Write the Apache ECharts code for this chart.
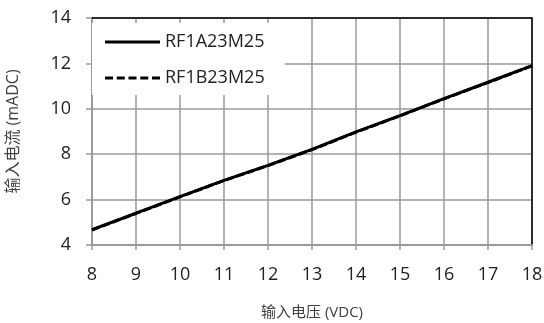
<!DOCTYPE html>
<html><head><meta charset="utf-8">
<script src="https://cdn.jsdelivr.net/npm/echarts@6/dist/echarts.min.js"></script>
<style>html,body{margin:0;padding:0;background:#fff}#c{width:544px;height:323px}</style>
</head><body><div id="c"></div>
<script>
const voltage = [8, 9, 10, 11, 12, 13, 14, 15, 16, 17, 18];
const currentA = [4.68, 5.40, 6.13, 6.85, 7.51, 8.21, 8.98, 9.70, 10.45, 11.17, 11.90];
const currentB = [4.66, 5.39, 6.12, 6.84, 7.50, 8.20, 8.97, 9.69, 10.44, 11.16, 11.89];
const seriesNames = ['RF1A23M25', 'RF1B23M25'];
const xName = '输入电压 (VDC)';
const yName = '输入电流 (mADC)';

const font = '"Open Sans", "Noto Sans CJK SC", sans-serif';
const grey = '#9a9a9a';
const solidIcon = 'path://M0,0h55v3h-55z';
const dashIcon = 'path://M0,0h8v3h-8zM11.75,0h8v3h-8zM23.5,0h8v3h-8zM35.25,0h8v3h-8zM47,0h8v3h-8z';
const chart = echarts.init(document.getElementById('c'), null, {renderer: 'canvas'});
chart.setOption({
  animation: false,
  backgroundColor: '#fff',
  grid: {left: 92, right: 12, top: 18, bottom: 78, containLabel: false, outerBoundsMode: 'none'},
  legend: {
    orient: 'vertical', left: 92, top: 23,
    backgroundColor: '#fff',
    padding: [10, 20, 8, 13],
    itemWidth: 55, itemHeight: 3, itemGap: 18,
    textStyle: {fontFamily: font, fontSize: 18, color: '#222', lineHeight: 18},
    data: [
      {name: seriesNames[0], icon: solidIcon, itemStyle: {color: '#000', borderWidth: 0}},
      {name: seriesNames[1], icon: dashIcon, itemStyle: {color: '#000', borderWidth: 0}}
    ]
  },
  xAxis: [{
    type: 'value', min: 8, max: 18, interval: 1,
    name: xName, nameLocation: 'middle', nameGap: 60,
    nameTextStyle: {fontFamily: font, fontSize: 15, color: '#404040'},
    axisLine: {show: true, lineStyle: {color: grey, width: 2}},
    axisTick: {show: true, length: 5, lineStyle: {color: grey, width: 1.5}},
    axisLabel: {fontFamily: font, fontSize: 18, color: '#222', margin: 21},
    splitLine: {show: true, lineStyle: {color: grey, width: 1.5}}
  }, {
    type: 'value', min: 8, max: 18, interval: 1, position: 'top',
    axisLine: {show: true, lineStyle: {color: '#000', width: 1.5}},
    axisTick: {show: false}, axisLabel: {show: false}, splitLine: {show: false}
  }],
  yAxis: [{
    type: 'value', min: 4, max: 14, interval: 2,
    name: yName, nameLocation: 'middle', nameGap: 71, nameRotate: 90,
    nameTextStyle: {fontFamily: font, fontSize: 16, color: '#404040'},
    axisLine: {show: true, lineStyle: {color: grey, width: 2}},
    axisTick: {show: true, length: 6, lineStyle: {color: grey, width: 1.5}},
    axisLabel: {fontFamily: font, fontSize: 18, color: '#222', margin: 21},
    splitLine: {show: true, lineStyle: {color: grey, width: 1.5}}
  }, {
    type: 'value', min: 4, max: 14, interval: 2, position: 'right',
    axisLine: {show: true, lineStyle: {color: '#000', width: 1.5}},
    axisTick: {show: false}, axisLabel: {show: false}, splitLine: {show: false}
  }],
  series: [
    {name: seriesNames[0], type: 'line', symbol: 'none', z: 3,
     data: voltage.map((v, i) => [v, currentA[i]]),
     lineStyle: {color: '#000', width: 3, type: 'solid'}, itemStyle: {color: '#000'}},
    {name: seriesNames[1], type: 'line', symbol: 'none', z: 4,
     data: voltage.map((v, i) => [v, currentB[i]]),
     lineStyle: {color: '#000', width: 3, type: [8, 3]}, itemStyle: {color: '#000'}}
  ]
});
</script></body></html>
